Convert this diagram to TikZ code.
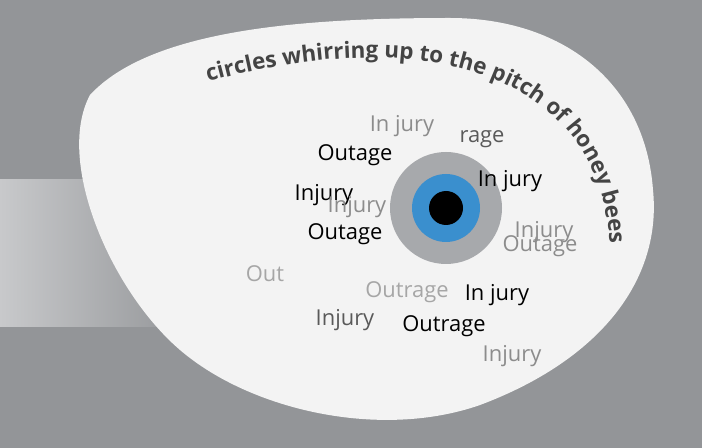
\documentclass[tikz,border=0pt]{standalone}
\usepackage{fontspec}
\setmainfont{Open Sans}
\usetikzlibrary{decorations.text}
\definecolor{bggrey}{RGB}{147,149,152}
\definecolor{bandgrey}{RGB}{200,201,203}
\definecolor{blobwhite}{RGB}{243,243,243}
\definecolor{irisgrey}{RGB}{167,169,172}
\definecolor{irisblue}{RGB}{58,143,206}
\definecolor{textdark}{RGB}{68,68,68}
\tikzset{
  word/.style={font=\fontsize{22}{22}\selectfont, inner sep=0pt},
  wordblack/.style={word, text=black},
  wordmid/.style={word, text=black!65},
  wordlight/.style={word, text=black!45},
  wordpale/.style={word, text=black!35}
}
\begin{document}
\begin{tikzpicture}[x=1bp,y=-1bp]
            % background and band
            \fill[bggrey] (0,0) rectangle (702,448);
            \shade[left color=bandgrey, right color=bggrey] (0,180) rectangle (190,326);
            \useasboundingbox (0,0) rectangle (702,448);
            % blob
            \fill[blobwhite] (90,95) .. controls (150,30) and (300,18) .. (450,18)
                 .. controls (560,18) and (645,80) .. (653,190)
                 .. controls (662,280) and (600,360) .. (480,405)
                 .. controls (380,440) and (250,410) .. (180,350)
                 .. controls (110,290) and (55,160) .. (90,95);
            % eye
            \fill[irisgrey]  (446,208) circle (56);
            \fill[irisblue]  (446,208) circle (34);
            \fill[black]     (446,208) circle (17);
            % curved line of text
            \path[decorate, decoration={text along path, text align=left,
                 text={|\fontsize{22.5}{22.5}\selectfont\bfseries\color{textdark}|circles whirring up to the pitch of honey bees}}]
                 (208,82) .. controls (420,22) and (615,70) .. (610,265);
            % words
            \node[wordlight] (w1)  at (402,126) {In jury};
            \node[wordmid]   (w2)  at (482,139) {rage};
            \node[wordblack] (w3)  at (355,155) {Outage};
            \node[wordblack] (w4)  at (510,181) {In jury};
            \node[wordblack] (w5)  at (324,195) {Injury};
            \node[wordlight] (w6)  at (357,207) {Injury};
            \node[wordblack] (w7)  at (345,234) {Outage};
            \node[wordlight] (w8)  at (544,232) {Injury};
            \node[wordlight] (w9)  at (540,246) {Outage};
            \node[wordpale]  (w10) at (265,274) {Out};
            \node[wordpale]  (w11) at (407,292) {Outrage};
            \node[wordblack] (w12) at (497,295) {In jury};
            \node[wordmid]   (w13) at (345,320) {Injury};
            \node[wordblack] (w14) at (444,326) {Outrage};
            \node[wordlight] (w15) at (512,356) {Injury};
\end{tikzpicture}
\end{document}
